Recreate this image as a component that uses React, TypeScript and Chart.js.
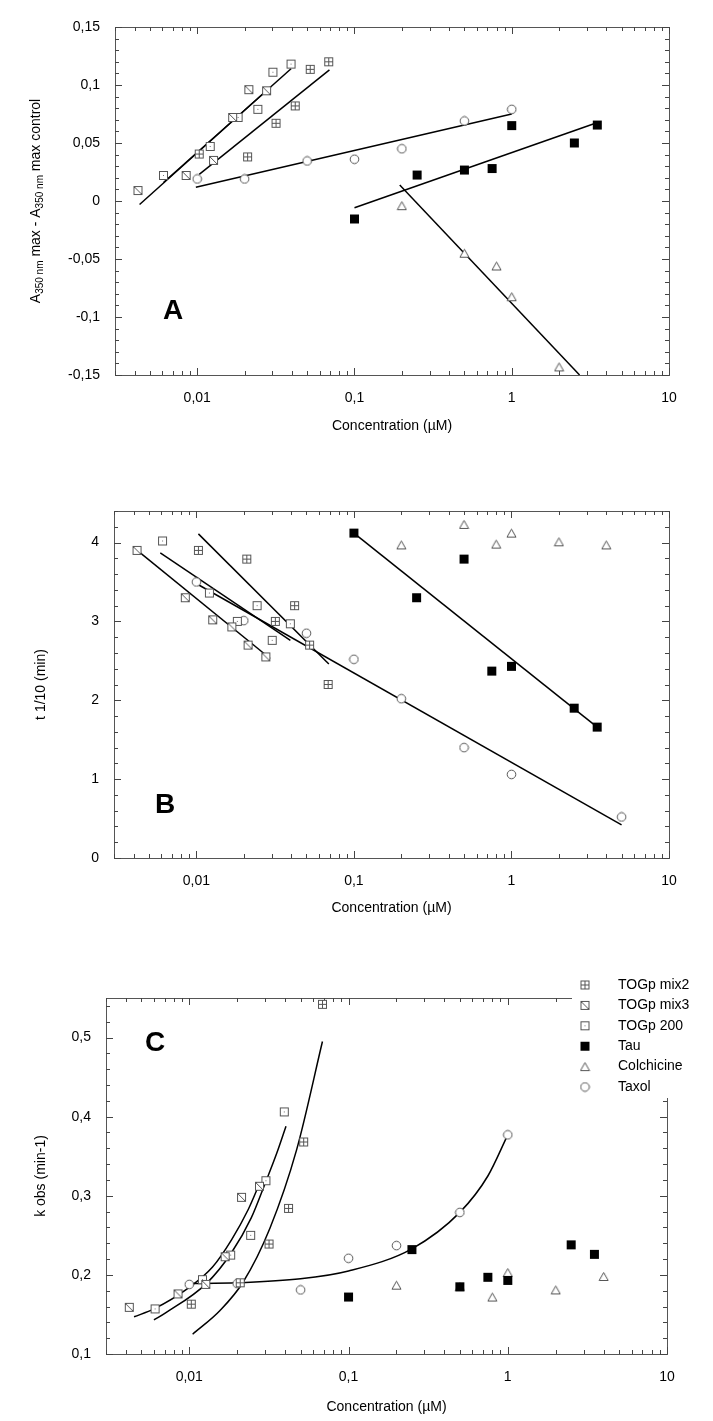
import React, { useEffect, useRef } from 'react';
import { Chart, registerables } from 'chart.js';

Chart.register(...registerables);

const FONT = '"Liberation Sans", Arial, Helvetica, sans-serif';
const PAGE_W = 713;

// ---------- concentrations (µM) ----------
const mix2Conc = [0.0103, 0.0209, 0.0317, 0.042, 0.0523, 0.0686];
const mix3Conc = [0.0042, 0.0085, 0.0127, 0.0168, 0.0213, 0.0276];
const togp200Conc = [0.0061, 0.0121, 0.0182, 0.0243, 0.0303, 0.0395];
const tauConc = [0.1, 0.25, 0.5, 0.75, 1, 2.5, 3.5];
const colchConcA = [0.2, 0.5, 0.8, 1, 2];
const colchConc = [0.2, 0.5, 0.8, 1, 2, 4];
const taxolConc = [0.01, 0.02, 0.05, 0.1, 0.2, 0.5, 1];
const taxolConcB = [0.01, 0.02, 0.05, 0.1, 0.2, 0.5, 1, 5];

// ---------- panel A : A350 max - A350 max control ----------
const mix2A = [0.0405, 0.038, 0.067, 0.082, 0.1135, 0.12];
const mix3A = [0.009, 0.022, 0.035, 0.072, 0.096, 0.095];
const togp200A = [0.022, 0.047, 0.072, 0.079, 0.111, 0.118];
const tauA = [-0.0155, 0.0224, 0.0267, 0.028, 0.065, 0.05, 0.0655];
const colchA = [-0.004, -0.045, -0.056, -0.0825, -0.143];
const taxolA = [0.019, 0.019, 0.0345, 0.036, 0.045, 0.069, 0.079];
const fitMix3A = [[0.0043, -0.003], [0.0294, 0.0985]];
const fit200A = [[0.0061, 0.016], [0.0395, 0.114]];
const fitMix2A = [[0.0103, 0.023], [0.0693, 0.113]];
const fitTaxolA = [[0.0098, 0.0118], [1, 0.075]];
const fitTauA = [[0.1, -0.0058], [3.3, 0.0664]];
const fitColchA = [[0.194, 0.0138], [2.7, -0.15]];

// ---------- panel B : t 1/10 (min) ----------
const mix2B = [3.9, 3.79, 3.0, 3.2, 2.7, 2.2];
const mix3B = [3.9, 3.3, 3.02, 2.93, 2.7, 2.55];
const togp200B = [4.02, 3.36, 3.0, 3.2, 2.76, 2.97];
const tauB = [4.12, 3.3, 3.79, 2.37, 2.43, 1.9, 1.66];
const colchB = [3.97, 4.23, 3.98, 4.12, 4.01, 3.97];
const taxolB = [3.5, 3.01, 2.85, 2.52, 2.02, 1.4, 1.06, 0.52];
const fitMix3B = [[0.0041, 3.92], [0.0294, 2.53]];
const fit200B = [[0.0059, 3.87], [0.0395, 2.76]];
const fitMix2B = [[0.0103, 4.11], [0.0693, 2.46]];
const fitTaxolB = [[0.0096, 3.5], [5, 0.42]];
const fitTauB = [[0.1, 4.12], [3.5, 1.66]];

// ---------- panel C : k obs (min-1) ----------
const mix2C = [0.163, 0.19, 0.239, 0.284, 0.368, 0.542];
const mix3C = [0.159, 0.176, 0.188, 0.223, 0.298, 0.312];
const togp200C = [0.157, 0.194, 0.225, 0.25, 0.319, 0.406];
const tauC = [0.172, 0.232, 0.185, 0.197, 0.193, 0.238, 0.226];
const colchC = [0.187, 0.185, 0.172, 0.203, 0.181, 0.198];
const taxolC = [0.188, 0.189, 0.181, 0.221, 0.237, 0.279, 0.377];
const curveMix3C = [[0.0045, 0.147], [0.006, 0.157], [0.0098, 0.183], [0.014, 0.21], [0.0185, 0.245], [0.0235, 0.283], [0.0277, 0.316]];
const curve200C = [[0.006, 0.143], [0.0071, 0.152], [0.0128, 0.189], [0.0184, 0.228], [0.0245, 0.272], [0.03, 0.316], [0.0356, 0.355], [0.0405, 0.388]];
const curveMix2C = [[0.0105, 0.125], [0.0156, 0.155], [0.0218, 0.191], [0.0321, 0.259], [0.0472, 0.358], [0.0686, 0.495]];
const curveTaxolC = [[0.0098, 0.189], [0.02, 0.19], [0.05, 0.195], [0.1, 0.205], [0.25, 0.233], [0.5, 0.279], [0.75, 0.325], [1, 0.377]];

// ---------- ticks & labels ----------
const xTickValues = [0.01, 0.1, 1, 10];
const xTickLabels = ['0,01', '0,1', '1', '10'];
const yTicksA = [-0.15, -0.1, -0.05, 0, 0.05, 0.1, 0.15];
const yLabelsA = ['-0,15', '-0,1', '-0,05', '0', '0,05', '0,1', '0,15'];
const yTicksB = [0, 1, 2, 3, 4];
const yLabelsB = ['0', '1', '2', '3', '4'];
const yTicksC = [0.1, 0.2, 0.3, 0.4, 0.5];
const yLabelsC = ['0,1', '0,2', '0,3', '0,4', '0,5'];
const legendLabels = ['TOGp mix2', 'TOGp mix3', 'TOGp 200', 'Tau', 'Colchicine', 'Taxol'];
const xTitle = 'Concentration (µM)';

type Kind = 'mix2' | 'mix3' | 't200' | 'tau' | 'colch' | 'taxol';
const legendKinds: Kind[] = ['mix2', 'mix3', 't200', 'tau', 'colch', 'taxol'];

interface Series { kind: Kind; xs: number[]; ys: number[] }
interface Fit { pts: number[][]; curve?: boolean }
interface Part { t: string; sub?: boolean }
interface PanelDef {
  top: number; height: number;
  left: number; right: number; plotTop: number; plotBottom: number;
  xMin: number; xMax: number; yMin: number; yMax: number;
  yTicks: number[]; yLabels: string[]; yMinor: number;
  yTitle: Part[]; yTitleX: number; xTitleY: number;
  letter: string; letterX: number; letterY: number;
  series: Series[]; fits: Fit[]; legend?: boolean;
}

function makeMarker(kind: Kind): HTMLCanvasElement {
  const c = document.createElement('canvas');
  c.width = 11; c.height = 11;
  const g = c.getContext('2d')!;
  g.lineWidth = 1;
  g.strokeStyle = '#555';
  g.fillStyle = '#fff';
  if (kind === 'tau') {
    g.fillStyle = '#000';
    g.fillRect(1, 1, 9, 9);
  } else if (kind === 'mix2' || kind === 'mix3' || kind === 't200') {
    g.fillRect(1, 1, 9, 9);
    g.strokeRect(1.5, 1.5, 8, 8);
    g.beginPath();
    if (kind === 'mix2') {
      g.moveTo(5.5, 1.5); g.lineTo(5.5, 9.5);
      g.moveTo(1.5, 5.5); g.lineTo(9.5, 5.5);
    }
    if (kind === 'mix3') { g.moveTo(1.5, 1.5); g.lineTo(9.5, 9.5); }
    g.stroke();
    if (kind === 't200') { g.fillStyle = '#777'; g.fillRect(5, 5, 1, 1); }
  } else if (kind === 'colch') {
    g.beginPath();
    g.moveTo(5.5, 1.5); g.lineTo(10, 9.5); g.lineTo(1, 9.5); g.closePath();
    g.fill(); g.stroke();
  } else {
    g.beginPath();
    g.arc(5.5, 5.5, 4.3, 0, Math.PI * 2);
    g.fill(); g.stroke();
  }
  return c;
}

const zip = (xs: number[], ys: number[]) => xs.map((x, i) => ({ x, y: ys[i] }));

function drawParts(ctx: CanvasRenderingContext2D, parts: Part[], cx: number, cy: number) {
  ctx.save();
  ctx.translate(cx, cy);
  ctx.rotate(-Math.PI / 2);
  ctx.textAlign = 'left';
  ctx.textBaseline = 'alphabetic';
  ctx.fillStyle = '#000';
  const mainF = `14px ${FONT}`;
  const subF = `10px ${FONT}`;
  let total = 0;
  parts.forEach(p => { ctx.font = p.sub ? subF : mainF; total += ctx.measureText(p.t).width; });
  let x = -total / 2;
  parts.forEach(p => {
    ctx.font = p.sub ? subF : mainF;
    ctx.fillText(p.t, x, p.sub ? 8 : 5);
    x += ctx.measureText(p.t).width;
  });
  ctx.restore();
}

function Panel({ def }: { def: PanelDef }) {
  const ref = useRef<HTMLCanvasElement>(null);
  useEffect(() => {
    if (!ref.current) return;
    const markers: Record<string, HTMLCanvasElement> = {};
    legendKinds.forEach(k => { markers[k] = makeMarker(k); });
    const off = def.top;
    const H = def.height;

    const datasets: any[] = [];
    def.fits.forEach(f => {
      datasets.push({
        data: f.pts.map(p => ({ x: p[0], y: p[1] })),
        showLine: true,
        borderColor: '#000',
        borderWidth: 1.5,
        pointRadius: 0,
        fill: false,
        cubicInterpolationMode: f.curve ? 'monotone' : 'default',
        tension: 0,
        order: 2,
      });
    });
    def.series.forEach(s => {
      datasets.push({
        data: zip(s.xs, s.ys),
        showLine: false,
        pointStyle: markers[s.kind],
        pointRadius: 5,
        order: 1,
      });
    });

    const frame = {
      id: 'frame',
      beforeDatasetsDraw(chart: any) {
        const { ctx, chartArea: a, scales } = chart;
        const xs = scales.x, ys = scales.y;
        ctx.save();
        ctx.strokeStyle = '#555';
        ctx.lineWidth = 1;
        ctx.strokeRect(a.left + 0.5, a.top + 0.5, a.right - a.left, a.bottom - a.top);
        ctx.strokeStyle = '#444';
        ctx.beginPath();
        for (let e = -3; e <= 1; e++) {
          for (let m = 1; m <= 9; m++) {
            const v = m * Math.pow(10, e);
            if (v < def.xMin * 0.9999 || v > def.xMax * 1.0001) continue;
            const px = Math.round(xs.getPixelForValue(v)) + 0.5;
            const len = m === 1 ? 7 : 4;
            ctx.moveTo(px, a.bottom); ctx.lineTo(px, a.bottom - len);
            ctx.moveTo(px, a.top); ctx.lineTo(px, a.top + len);
          }
        }
        const n = Math.floor((def.yMax - def.yMin) / def.yMinor + 1e-6);
        for (let i = 0; i <= n; i++) {
          const v = def.yMin + i * def.yMinor;
          if (v > def.yMax + def.yMinor / 10) continue;
          const major = def.yTicks.some(t => Math.abs(t - v) < def.yMinor / 10);
          const py = Math.round(ys.getPixelForValue(v)) + 0.5;
          const len = major ? 7 : 4;
          ctx.moveTo(a.left, py); ctx.lineTo(a.left + len, py);
          ctx.moveTo(a.right, py); ctx.lineTo(a.right - len, py);
        }
        ctx.stroke();
        ctx.restore();
      },
      afterDraw(chart: any) {
        const { ctx, chartArea: a, scales } = chart;
        const xs = scales.x, ys = scales.y;
        ctx.save();
        ctx.fillStyle = '#000';
        ctx.font = `14px ${FONT}`;
        ctx.textBaseline = 'middle';
        ctx.textAlign = 'center';
        xTickValues.forEach((v, i) => {
          ctx.fillText(xTickLabels[i], xs.getPixelForValue(v), a.bottom + 23);
        });
        ctx.textAlign = 'right';
        def.yTicks.forEach((v, i) => {
          ctx.fillText(def.yLabels[i], a.left - 15, ys.getPixelForValue(v));
        });
        ctx.textAlign = 'center';
        ctx.fillText(xTitle, (a.left + a.right) / 2, def.xTitleY - off);
        drawParts(ctx, def.yTitle, def.yTitleX, (a.top + a.bottom) / 2);
        ctx.font = `bold 28px ${FONT}`;
        ctx.fillText(def.letter, def.letterX, def.letterY - off);
        if (def.legend) {
          ctx.fillStyle = '#fff';
          ctx.fillRect(572, 973 - off, PAGE_W - 572, 125);
          ctx.fillStyle = '#000';
          ctx.font = `14px ${FONT}`;
          ctx.textAlign = 'left';
          legendLabels.forEach((lab, i) => {
            const yy = 985 + i * 20.4 - off;
            const m = markers[legendKinds[i]];
            ctx.drawImage(m, 585 - m.width / 2, yy - m.height / 2);
            ctx.fillText(lab, 618, yy);
          });
        }
        ctx.restore();
      },
    };

    const chart = new Chart(ref.current, {
      type: 'scatter',
      data: { datasets },
      options: {
        animation: false,
        responsive: false,
        events: [],
        layout: {
          padding: {
            left: def.left,
            right: PAGE_W - def.right,
            top: def.plotTop - off,
            bottom: off + H - def.plotBottom,
          },
        },
        plugins: { legend: { display: false }, tooltip: { enabled: false } },
        scales: {
          x: { type: 'logarithmic', min: def.xMin, max: def.xMax, display: false },
          y: { type: 'linear', min: def.yMin, max: def.yMax, display: false },
        },
      } as any,
      plugins: [frame as any],
    });
    return () => chart.destroy();
  }, []);
  return (
    <canvas
      ref={ref}
      width={PAGE_W}
      height={def.height}
      style={{ position: 'absolute', left: 0, top: def.top, width: PAGE_W, height: def.height }}
    />
  );
}

const panelA: PanelDef = {
  top: 0, height: 470, left: 115, right: 669, plotTop: 27, plotBottom: 375,
  xMin: 0.003, xMax: 10, yMin: -0.15, yMax: 0.15,
  yTicks: yTicksA, yLabels: yLabelsA, yMinor: 0.01,
  yTitle: [{ t: 'A' }, { t: '350 nm', sub: true }, { t: ' max - A' }, { t: '350 nm', sub: true }, { t: ' max control' }],
  yTitleX: 35, xTitleY: 426,
  letter: 'A', letterX: 173, letterY: 311,
  series: [
    { kind: 'mix2', xs: mix2Conc, ys: mix2A },
    { kind: 'mix3', xs: mix3Conc, ys: mix3A },
    { kind: 't200', xs: togp200Conc, ys: togp200A },
    { kind: 'tau', xs: tauConc, ys: tauA },
    { kind: 'colch', xs: colchConcA, ys: colchA },
    { kind: 'taxol', xs: taxolConc, ys: taxolA },
  ],
  fits: [
    { pts: fitMix3A }, { pts: fit200A }, { pts: fitMix2A },
    { pts: fitTaxolA }, { pts: fitTauA }, { pts: fitColchA },
  ],
};

const panelB: PanelDef = {
  top: 470, height: 475, left: 114, right: 669, plotTop: 511, plotBottom: 858,
  xMin: 0.003, xMax: 10, yMin: 0, yMax: 4.4,
  yTicks: yTicksB, yLabels: yLabelsB, yMinor: 0.2,
  yTitle: [{ t: 't 1/10 (min)' }],
  yTitleX: 40, xTitleY: 908,
  letter: 'B', letterX: 165, letterY: 805,
  series: [
    { kind: 'mix2', xs: mix2Conc, ys: mix2B },
    { kind: 'mix3', xs: mix3Conc, ys: mix3B },
    { kind: 't200', xs: togp200Conc, ys: togp200B },
    { kind: 'tau', xs: tauConc, ys: tauB },
    { kind: 'colch', xs: colchConc, ys: colchB },
    { kind: 'taxol', xs: taxolConcB, ys: taxolB },
  ],
  fits: [
    { pts: fitMix3B }, { pts: fit200B }, { pts: fitMix2B },
    { pts: fitTaxolB }, { pts: fitTauB },
  ],
};

const panelC: PanelDef = {
  top: 945, height: 476, left: 106, right: 667, plotTop: 998, plotBottom: 1354,
  xMin: 0.003, xMax: 10, yMin: 0.1, yMax: 0.55,
  yTicks: yTicksC, yLabels: yLabelsC, yMinor: 0.02,
  yTitle: [{ t: 'k obs (min-1)' }],
  yTitleX: 40, xTitleY: 1407,
  letter: 'C', letterX: 155, letterY: 1043,
  series: [
    { kind: 'mix2', xs: mix2Conc, ys: mix2C },
    { kind: 'mix3', xs: mix3Conc, ys: mix3C },
    { kind: 't200', xs: togp200Conc, ys: togp200C },
    { kind: 'tau', xs: tauConc, ys: tauC },
    { kind: 'colch', xs: colchConc, ys: colchC },
    { kind: 'taxol', xs: taxolConc, ys: taxolC },
  ],
  fits: [
    { pts: curveMix3C, curve: true }, { pts: curve200C, curve: true },
    { pts: curveMix2C, curve: true }, { pts: curveTaxolC, curve: true },
  ],
  legend: true,
};

export default function App() {
  return (
    <div style={{ position: 'absolute', left: 0, top: 0, width: PAGE_W, height: 1421, background: '#fff' }}>
      <Panel def={panelA} />
      <Panel def={panelB} />
      <Panel def={panelC} />
    </div>
  );
}
